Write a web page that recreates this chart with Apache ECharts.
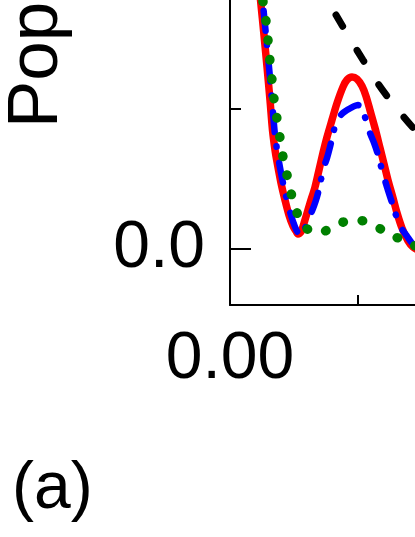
<!DOCTYPE html>
<html>
<head>
<meta charset="utf-8">
<script src="https://cdn.jsdelivr.net/npm/echarts@6/dist/echarts.min.js"></script>
<style>
  html, body { margin: 0; padding: 0; background: #fff; }
  #chart { width: 415px; height: 537px; }
</style>
</head>
<body>
<div id="chart"></div>
<script>
// values
const xTicks = [0, 0.05, 0.1]
const yTicks = [0, 1]
const yMinorTicks = [0.5]

const tRed = [0.00508, 0.00596, 0.00664, 0.00723, 0.00781, 0.0083, 0.00879, 0.00918, 0.00996, 0.01074, 0.01152, 0.0123, 0.01289, 0.01328, 0.01387, 0.01465, 0.01563, 0.0166, 0.01738, 0.01816, 0.01895, 0.01992, 0.0209, 0.02207, 0.02285, 0.02383, 0.0248, 0.02578, 0.02656, 0.02734, 0.02832, 0.0293, 0.03008, 0.03086, 0.03184, 0.03262, 0.03359, 0.03477, 0.03574, 0.03711, 0.03906]
const popRed = [1.032, 0.889, 0.764, 0.65, 0.532, 0.425, 0.354, 0.311, 0.236, 0.175, 0.121, 0.082, 0.064, 0.054, 0.061, 0.104, 0.164, 0.221, 0.282, 0.343, 0.4, 0.461, 0.521, 0.579, 0.604, 0.614, 0.607, 0.582, 0.546, 0.496, 0.432, 0.361, 0.304, 0.246, 0.182, 0.129, 0.075, 0.029, 0.007, -0.004, 0.0]

const tBlue = [0.00547, 0.00635, 0.00703, 0.00762, 0.0082, 0.00869, 0.00918, 0.00957, 0.01035, 0.01113, 0.01191, 0.0127, 0.01328, 0.01367, 0.01426, 0.01484, 0.01563, 0.01641, 0.01699, 0.01758, 0.01816, 0.01895, 0.01953, 0.02012, 0.0207, 0.02129, 0.02227, 0.02363, 0.025, 0.02578, 0.02656, 0.02734, 0.02813, 0.02891, 0.02969, 0.03066, 0.03184, 0.03281, 0.03359, 0.03457, 0.03555, 0.03672, 0.03867]
const popBlue = [1.032, 0.889, 0.764, 0.65, 0.532, 0.425, 0.354, 0.311, 0.236, 0.175, 0.121, 0.079, 0.057, 0.05, 0.061, 0.082, 0.118, 0.154, 0.186, 0.229, 0.282, 0.325, 0.364, 0.411, 0.45, 0.471, 0.489, 0.504, 0.514, 0.496, 0.461, 0.414, 0.379, 0.336, 0.282, 0.221, 0.154, 0.1, 0.071, 0.046, 0.021, 0.004, -0.004]

const tGreen = [0.00605, 0.00645, 0.00703, 0.00742, 0.00781, 0.0082, 0.00859, 0.00918, 0.00977, 0.01035, 0.01094, 0.01152, 0.0123, 0.01328, 0.01484, 0.01738, 0.01973, 0.02207, 0.025, 0.02695, 0.02949, 0.03184, 0.03398, 0.03574, 0.03809]
const popGreen = [0.954, 0.882, 0.814, 0.746, 0.671, 0.604, 0.536, 0.464, 0.396, 0.329, 0.282, 0.229, 0.175, 0.121, 0.075, 0.057, 0.075, 0.096, 0.104, 0.093, 0.071, 0.046, 0.032, 0.014, 0.004]

const tBlack = [0.01367, 0.01719, 0.0207, 0.02324, 0.02598, 0.02871, 0.03125, 0.03379, 0.03613, 0.03906]
const popBlack = [1.05, 0.943, 0.836, 0.757, 0.675, 0.596, 0.532, 0.475, 0.425, 0.364]

const FONT = 'Liberation Sans'

function pairs(xs, ys) {
  return xs.map((x, i) => [x, ys[i]])
}

const chart = echarts.init(document.getElementById('chart'), null, { renderer: 'canvas' })

const option = {
  animation: false,
  backgroundColor: '#fff',
  grid: {
    left: 230,
    bottom: 232,
    right: -327,
    top: -87,
    containLabel: false,
    outerBoundsMode: 'none'
  },
  xAxis: {
    type: 'value',
    min: xTicks[0],
    max: xTicks[xTicks.length - 1],
    interval: xTicks[1] - xTicks[0],
    axisLine: { onZero: false, lineStyle: { color: '#000', width: 2 } },
    axisTick: { inside: true, length: 21, lineStyle: { color: '#000', width: 2 } },
    minorTick: { show: true, splitNumber: 2, length: 10, lineStyle: { color: '#000', width: 2 } },
    axisLabel: {
      formatter: v => v.toFixed(2),
      fontSize: 66,
      fontFamily: FONT,
      color: '#000',
      margin: 22
    },
    splitLine: { show: false },
    minorSplitLine: { show: false }
  },
  yAxis: [
    {
      type: 'value',
      min: -0.2,
      max: 1.2,
      axisLine: { show: true, onZero: false, lineStyle: { color: '#000', width: 2 } },
      axisTick: { inside: true, length: 21, customValues: yTicks, lineStyle: { color: '#000', width: 2 } },
      axisLabel: {
        customValues: yTicks,
        formatter: v => v.toFixed(1),
        fontSize: 66,
        fontFamily: FONT,
        color: '#000',
        margin: 25
      },
      splitLine: { show: false }
    },
    {
      type: 'value',
      min: -0.2,
      max: 1.2,
      position: 'left',
      axisLine: { show: false },
      axisTick: { inside: true, length: 11, customValues: yMinorTicks, lineStyle: { color: '#000', width: 2 } },
      axisLabel: { show: false },
      splitLine: { show: false }
    }
  ],
  graphic: [
    {
      type: 'text',
      x: 37,
      y: 128,
      rotation: Math.PI / 2,
      style: {
        text: 'Population',
        fontSize: 71,
        fontFamily: FONT,
        fill: '#000',
        align: 'left',
        verticalAlign: 'middle'
      }
    },
    {
      type: 'text',
      x: 12,
      y: 457,
      style: {
        text: '(a)',
        fontSize: 66,
        fontFamily: FONT,
        fill: '#000',
        align: 'left',
        verticalAlign: 'top'
      }
    }
  ],
  series: [
    {
      type: 'line',
      data: pairs(tRed, popRed),
      smooth: 0.3,
      showSymbol: false,
      lineStyle: { color: '#ff0000', width: 7.5 }
    },
    {
      type: 'line',
      data: pairs(tBlue, popBlue),
      smooth: 0.3,
      showSymbol: false,
      lineStyle: { color: '#0000ff', width: 6.5, type: [20, 14, 0.5, 16.5], cap: 'round' }
    },
    {
      type: 'line',
      data: pairs(tGreen, popGreen),
      smooth: 0.3,
      showSymbol: false,
      lineStyle: { color: '#008000', width: 9.5, type: [0.5, 19], cap: 'round' }
    },
    {
      type: 'line',
      data: pairs(tBlack, popBlack),
      smooth: 0.3,
      showSymbol: false,
      lineStyle: { color: '#000000', width: 7, type: [13, 28], cap: 'round', dashOffset: 12 }
    }
  ]
}

chart.setOption(option)
</script>
</body>
</html>
